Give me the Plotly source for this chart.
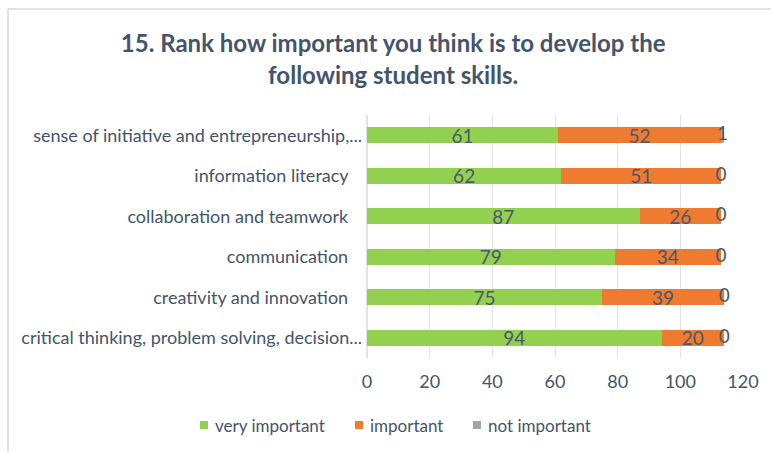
import numpy as np
import plotly.graph_objects as go

# Survey question 15: importance of developing student skills
skills = [
    "critical thinking, problem solving, decision...",
    "creativity and innovation",
    "communication",
    "collaboration and teamwork",
    "information literacy",
    "sense of initiative and entrepreneurship,...",
]
very_important = [94, 75, 79, 87, 62, 61]
important = [20, 39, 34, 26, 51, 52]
not_important = [0, 0, 0, 0, 0, 1]

series_names = ["very important", "important", "not important"]
x_ticks = [0, 20, 40, 60, 80, 100, 120]

GREEN = "#92d050"
ORANGE = "#ee7b30"
GRAY = "#a5a5a5"
TEXT = "#44546a"
LABEL = "#4b586b"
FONT = "Lato"
COLORS = [GREEN, ORANGE, GRAY]

W, H = 771, 452
ML, MR, MT, MB = 367, 28, 115, 94
PW, PH = W - ML - MR, H - MT - MB


def px_to_paper(px, py):
    """Convert page pixel position to paper coordinates of the plot area."""
    return (px - ML) / PW, (H - MB - py) / PH


# full-length labels sit a little further from the axis than the shortened ones
tick_text = [s if s.endswith("...") else s + "\u00a0\u00a0\u00a0" for s in skills]

fig = go.Figure()

for name, vals, color in zip(series_names[:2], [very_important, important], COLORS[:2]):
    fig.add_trace(go.Bar(
        y=skills, x=vals, name=name, orientation="h",
        marker=dict(color=color, line=dict(width=0)),
        text=[str(v) for v in vals],
        textposition="inside", insidetextanchor="middle",
        textangle=0, constraintext="none",
        textfont=dict(family=FONT, size=19, color=LABEL),
    ))

fig.add_trace(go.Bar(
    y=skills, x=not_important, name=series_names[2], orientation="h",
    marker=dict(color=GRAY, line=dict(width=0)),
    textposition="none",
))

# labels for the thin "not important" segments, centred on each segment
ends = np.array(very_important) + np.array(important)
centers = ends + np.array(not_important) / 2
fig.add_trace(go.Scatter(
    y=skills, x=centers, mode="text",
    text=[str(v) for v in not_important],
    textposition="middle center",
    textfont=dict(family=FONT, size=19, color=LABEL),
    showlegend=False, hoverinfo="skip",
))

# single-row legend below the chart: coloured square + label
shapes = []
annotations = []
legend_x = [200, 355, 473]
legend_y = 425
for lx, name, color in zip(legend_x, series_names, COLORS):
    x0, y0 = px_to_paper(lx, legend_y + 4)
    x1, y1 = px_to_paper(lx + 8, legend_y - 4)
    shapes.append(dict(type="rect", xref="paper", yref="paper",
                       x0=x0, x1=x1, y0=y0, y1=y1,
                       fillcolor=color, line=dict(width=0)))
    tx, ty = px_to_paper(lx + 13, legend_y)
    annotations.append(dict(xref="paper", yref="paper", x=tx, y=ty,
                            xanchor="left", yanchor="middle", showarrow=False,
                            text=name, font=dict(family=FONT, size=17, color=TEXT)))

# chart frame (top and left edges)
fx0, fy0 = px_to_paper(8, 9)
fx1, fy1 = px_to_paper(W + 10, H + 10)
shapes.append(dict(type="line", xref="paper", yref="paper",
                   x0=fx0, x1=fx1, y0=fy0, y1=fy0,
                   line=dict(color="#dde2e8", width=2)))
shapes.append(dict(type="line", xref="paper", yref="paper",
                   x0=fx0, x1=fx0, y0=fy0, y1=fy1,
                   line=dict(color="#dde2e8", width=2)))

fig.update_layout(
    width=W, height=H,
    margin=dict(l=ML, r=MR, t=MT, b=MB, autoexpand=False),
    paper_bgcolor="white", plot_bgcolor="white",
    barmode="stack", bargap=0.6,
    showlegend=False,
    title=dict(
        text="<b>15. Rank how important you think is to develop the<br>following student skills.</b>",
        x=0.51, xanchor="center", y=0.884, yanchor="middle",
        font=dict(family=FONT, size=24, color=TEXT),
    ),
    xaxis=dict(
        range=[0, 120], tickvals=x_ticks, ticktext=[str(t) for t in x_ticks],
        showgrid=True, gridcolor="#dfe2e7", gridwidth=1,
        zeroline=True, zerolinecolor="#dfe2e7",
        showline=False, ticks="", ticklabelstandoff=11,
        tickfont=dict(family=FONT, size=18, color=TEXT),
        fixedrange=True, automargin=False,
    ),
    yaxis=dict(
        tickvals=skills, ticktext=tick_text,
        showgrid=False, zeroline=False, showline=False, ticks="",
        ticklabelstandoff=4, automargin=False,
        tickfont=dict(family=FONT, size=18, color=TEXT),
    ),
    shapes=shapes,
    annotations=annotations,
)

fig.write_html("out.html")
